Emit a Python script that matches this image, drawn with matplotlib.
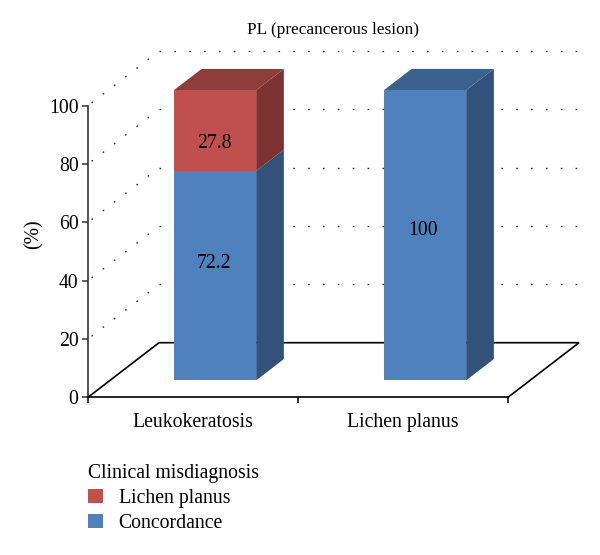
import numpy as np
import matplotlib
matplotlib.use('Agg')
import matplotlib.pyplot as plt
from matplotlib.patches import Patch, Polygon

plt.rcParams['font.family'] = ['Liberation Serif', 'DejaVu Serif']

# Данные
categories = ['Leukokeratosis', 'Lichen planus']
concordance = [72.2, 100]
lichen_planus = [27.8, 0]
y_ticks = [0, 20, 40, 60, 80, 100]
value_labels = ['72.2', '27.8', '100']

# Положение подписей значений (категория, высота)
label_pos = [(0.1, 46.0), (0.1, 87.0), (1.095, 57.2)]

FS = 14.2
W, H = 600, 555

# Параметры псевдо-3D: сдвиг экрана на единицу глубины
DX = 71 / 210
DY = 54.6 / 2.916
BAR_HALF = 0.196
BAR_SCALE = 0.995
Z_FRONT, Z_BACK = 0.31, 0.70

RED = ('#C0504D', '#7C3231', '#8F3C3A')
BLUE = ('#4F81BD', '#335279', '#3B618F')


def proj(x, y, z):
    return x + z * DX, y * BAR_SCALE + z * DY


def box(ax, xc, y0, y1, colors, top=False):
    xl, xr = xc - BAR_HALF, xc + BAR_HALF
    front = [proj(xl, y0, Z_FRONT), proj(xr, y0, Z_FRONT), proj(xr, y1, Z_FRONT), proj(xl, y1, Z_FRONT)]
    side = [proj(xr, y0, Z_FRONT), proj(xr, y0, Z_BACK), proj(xr, y1, Z_BACK), proj(xr, y1, Z_FRONT)]
    ax.add_patch(Polygon(side, facecolor=colors[1], edgecolor='none', zorder=4, clip_on=False))
    ax.add_patch(Polygon(front, facecolor=colors[0], edgecolor='none', zorder=5, clip_on=False))
    if top:
        roof = [proj(xl, y1, Z_FRONT), proj(xr, y1, Z_FRONT), proj(xr, y1, Z_BACK), proj(xl, y1, Z_BACK)]
        ax.add_patch(Polygon(roof, facecolor=colors[2], edgecolor='none', zorder=4, clip_on=False))


fig = plt.figure(figsize=(W / 100, H / 100), dpi=100)
ax = fig.add_axes([88 / W, 1 - 397.3 / H, 420 / W, 291.6 / H])
ax.set_xlim(-0.5, 1.5)
ax.set_ylim(0, 100)

# Пол
floor_x = [-0.5, -0.5 + DX, 1.5 + DX, 1.5]
floor_y = [0, DY, DY, 0]
ax.plot(floor_x, floor_y, color='black', lw=1.2, clip_on=False, zorder=2, solid_joinstyle='miter')

# Точечная сетка
dots = (0, (1.2, 9.5))
dots_diag = (7, (1.2, 9))
for t in y_ticks[1:]:
    bx, by = -0.5 + DX, t + DY
    ax.plot([-0.5, bx], [t, by], color='#333333', lw=1, ls=dots_diag, clip_on=False, zorder=1)
    ax.plot([bx, 1.5 + DX], [by, by], color='#333333', lw=1, ls=dots, clip_on=False, zorder=1)

# Столбцы
for i, (c, r) in enumerate(zip(concordance, lichen_planus)):
    box(ax, i, 0, c, BLUE, top=r == 0)
    if r > 0:
        box(ax, i, c, c + r, RED, top=True)

for (x, y), s in zip(label_pos, value_labels):
    ax.text(x, y, s, ha='center', va='center', fontsize=FS, color='black', zorder=6)

# Оси
for s in ['top', 'right']:
    ax.spines[s].set_visible(False)
ax.spines['left'].set_color('#333333')
ax.spines['left'].set_linewidth(1.2)
ax.spines['bottom'].set_linewidth(1.2)
ax.set_yticks(y_ticks)
ax.tick_params(axis='y', length=4.5, width=1.1, color='#333333', labelsize=FS, pad=2.3)
ax.set_xticks([0, 1])
ax.set_xticklabels(categories)
ax.tick_params(axis='x', which='major', length=0, labelsize=FS, pad=11)
ax.set_xticks([-0.5, 0.5, 1.5], minor=True)
ax.tick_params(axis='x', which='minor', length=4.5, width=1.1)
ax.set_ylabel('(%)', fontsize=FS)
ax.yaxis.set_label_coords(-44 / 420, 0.56)

fig.text(333 / W, 1 - 30 / H, 'PL (precancerous lesion)', ha='center', va='center', fontsize=12.4)

handles = [Patch(facecolor=RED[0], edgecolor='none'), Patch(facecolor=BLUE[0], edgecolor='none')]
leg = fig.legend(handles, ['Lichen planus', 'Concordance'], title='Clinical misdiagnosis',
                 loc='upper left', bbox_to_anchor=(88 / W, 1 - 464 / H), bbox_transform=fig.transFigure,
                 frameon=False, fontsize=FS, title_fontsize=FS, alignment='left',
                 borderaxespad=0, borderpad=0, handlelength=0.75, handleheight=0.75,
                 handletextpad=0.8, labelspacing=0.3)

fig.savefig('out.png', dpi=100)
plt.close(fig)
